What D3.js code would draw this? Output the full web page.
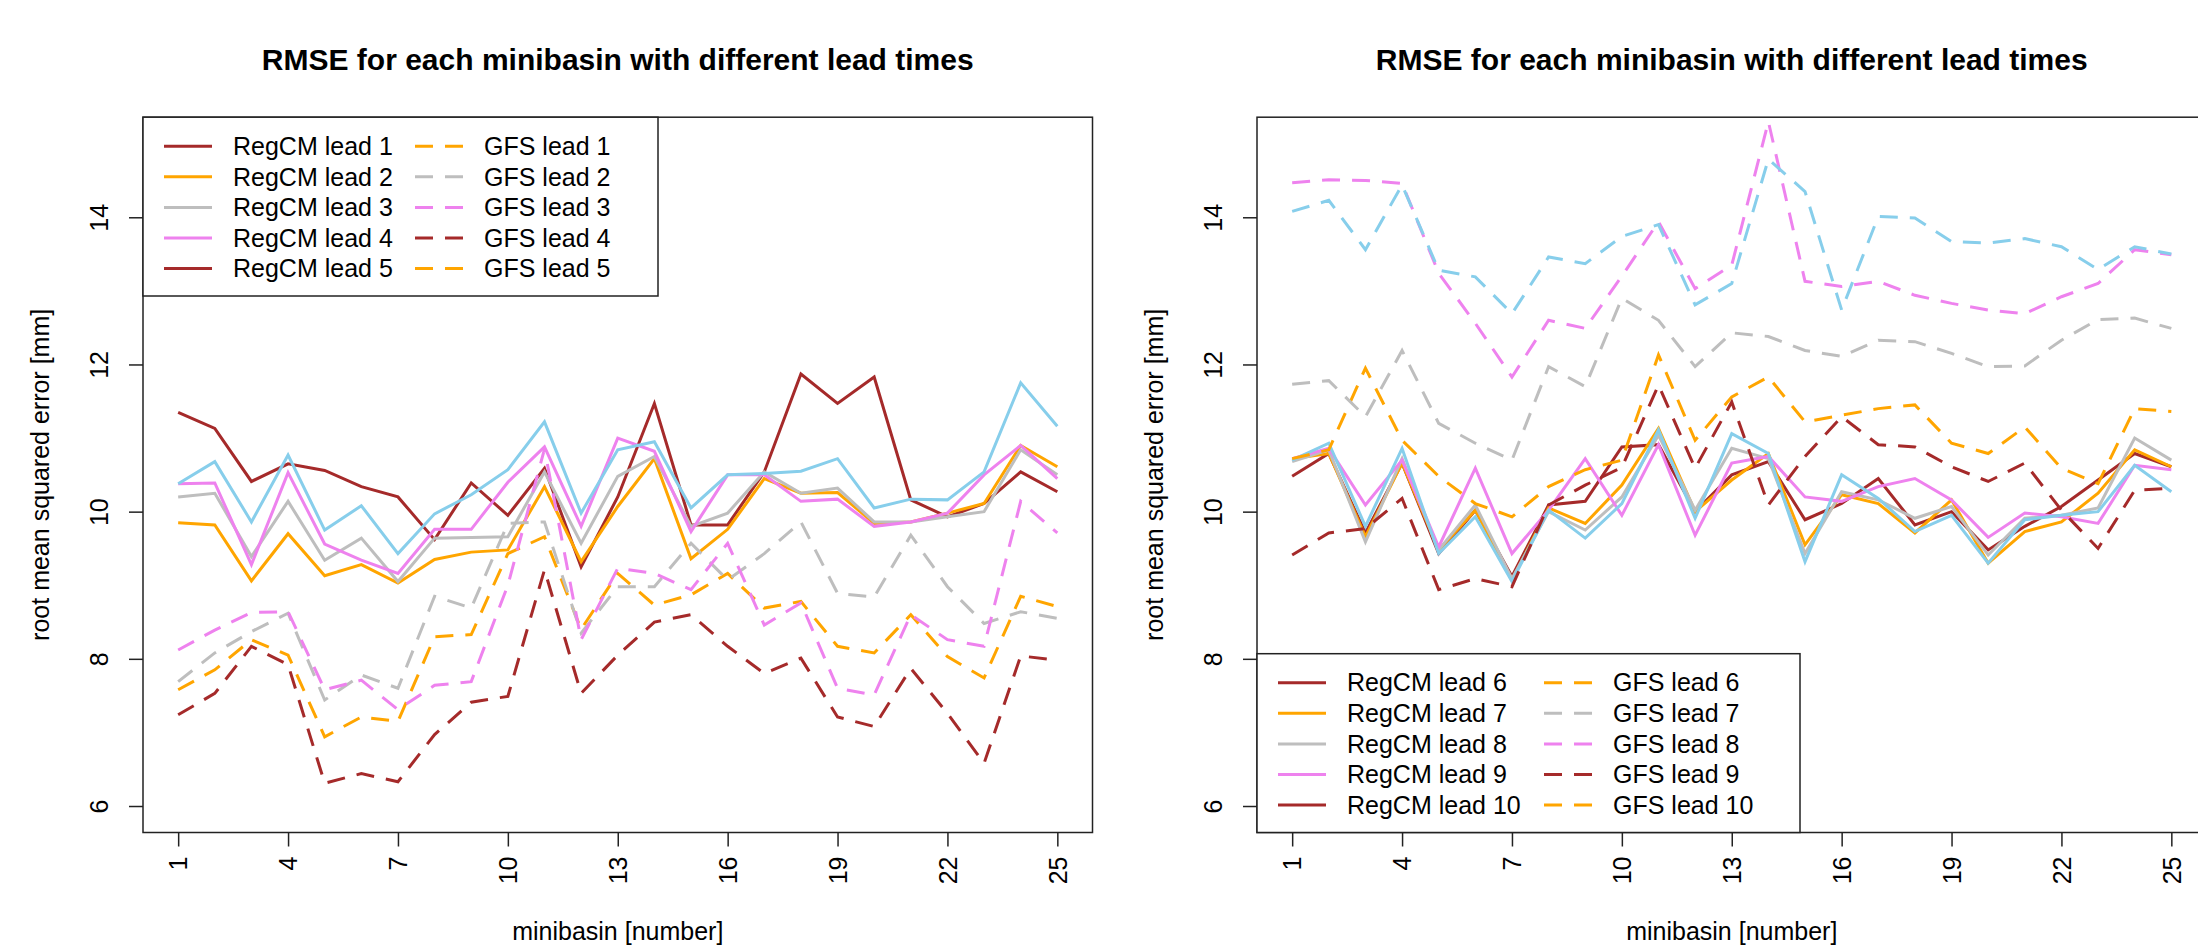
<!DOCTYPE html>
<html>
<head>
<meta charset="utf-8">
<script src="https://cdn.jsdelivr.net/npm/d3@7"></script>
<style>
  body { margin: 0; background: #fff; }
  text { font-family: "Liberation Sans", Arial, sans-serif; fill: #000; }
</style>
</head>
<body>
<svg width="2198" height="951"></svg>
<script>
var svg = d3.select("svg"),
    width = +svg.attr("width"),
    height = +svg.attr("height");

// minibasin numbers and axis ticks
var basins = [1, 2, 3, 4, 5, 6, 7, 8, 9, 10, 11, 12, 13, 14, 15, 16, 17, 18, 19, 20, 21, 22, 23, 24, 25];
var xTicks = [1, 4, 7, 10, 13, 16, 19, 22, 25];
var yTicks = [6, 8, 10, 12, 14];
var yLimits = [6, 15];

// line colours (R names brown, orange, gray, violet, skyblue)
var brown = "#a52a2a", orange = "#ffa500", gray = "#bebebe", violet = "#ee82ee", skyblue = "#87ceeb";

// left panel, leads 1-5
var regcm1 = [11.35, 11.13, 10.41, 10.65, 10.56, 10.34, 10.20, 9.62, 10.39, 9.95, 10.59, 9.25, 10.20, 11.47, 9.82, 9.82, 10.54, 11.87, 11.47, 11.83, 10.16, 9.93, 10.11, 10.54, 10.27];
var regcm2 = [9.85, 9.82, 9.06, 9.70, 9.13, 9.28, 9.03, 9.35, 9.45, 9.48, 10.34, 9.32, 10.07, 10.72, 9.36, 9.76, 10.45, 10.25, 10.26, 9.84, 9.86, 9.98, 10.11, 10.90, 10.61];
var regcm3 = [10.20, 10.25, 9.39, 10.14, 9.34, 9.64, 9.05, 9.64, 9.65, 9.66, 10.54, 9.57, 10.48, 10.75, 9.80, 9.98, 10.54, 10.25, 10.32, 9.86, 9.86, 9.93, 10.00, 10.84, 10.50];
var regcm4 = [10.38, 10.39, 9.28, 10.53, 9.56, 9.34, 9.16, 9.76, 9.76, 10.40, 10.88, 9.80, 11.00, 10.82, 9.73, 10.50, 10.50, 10.14, 10.17, 9.80, 9.86, 9.98, 10.50, 10.90, 10.45];
var regcm5 = [10.38, 10.68, 9.86, 10.77, 9.75, 10.08, 9.43, 9.97, 10.23, 10.57, 11.22, 9.98, 10.84, 10.95, 10.05, 10.50, 10.52, 10.55, 10.72, 10.05, 10.17, 10.16, 10.54, 11.75, 11.16];
var gfs1 = [7.58, 7.85, 8.26, 8.05, 6.94, 7.21, 7.15, 8.30, 8.33, 9.43, 9.66, 8.40, 9.16, 8.73, 8.87, 9.16, 8.69, 8.78, 8.17, 8.08, 8.60, 8.03, 7.74, 8.85, 8.71];
var gfs2 = [7.69, 8.08, 8.37, 8.62, 7.44, 7.78, 7.60, 8.85, 8.69, 9.84, 9.86, 8.35, 8.98, 8.98, 9.57, 9.07, 9.43, 9.86, 8.89, 8.84, 9.68, 8.98, 8.48, 8.64, 8.55];
var gfs3 = [8.12, 8.39, 8.63, 8.64, 7.58, 7.71, 7.31, 7.64, 7.69, 9.00, 10.85, 8.26, 9.23, 9.16, 8.94, 9.57, 8.46, 8.76, 7.60, 7.51, 8.60, 8.26, 8.17, 10.14, 9.71];
var gfs4 = [7.24, 7.53, 8.17, 7.92, 6.31, 6.44, 6.33, 6.97, 7.41, 7.49, 9.21, 7.53, 8.05, 8.50, 8.60, 8.17, 7.80, 8.01, 7.21, 7.08, 7.87, 7.26, 6.58, 8.04, 7.98];

// right panel, leads 6-10
var regcm6 = [10.48, 10.79, 9.71, 10.66, 9.43, 10.02, 9.12, 10.09, 10.14, 10.88, 10.91, 10.00, 10.50, 10.68, 9.89, 10.11, 10.45, 9.82, 10.00, 9.48, 9.80, 10.07, 10.43, 10.79, 10.61];
var regcm7 = [10.72, 10.79, 9.66, 10.66, 9.48, 10.02, 9.07, 10.05, 9.84, 10.36, 11.13, 10.00, 10.43, 10.79, 9.55, 10.23, 10.11, 9.71, 10.16, 9.30, 9.73, 9.86, 10.25, 10.84, 10.61];
var regcm8 = [10.68, 10.84, 9.59, 10.72, 9.48, 10.09, 9.09, 10.00, 9.75, 10.20, 11.04, 10.02, 10.86, 10.72, 9.43, 10.27, 10.16, 9.91, 10.07, 9.41, 9.91, 9.95, 10.05, 11.00, 10.70];
var regcm9 = [10.72, 10.86, 10.09, 10.70, 9.52, 10.59, 9.43, 10.02, 10.72, 9.95, 10.91, 9.68, 10.66, 10.75, 10.20, 10.14, 10.34, 10.45, 10.16, 9.65, 9.98, 9.93, 9.84, 10.63, 10.57];
var regcm10 = [10.70, 10.93, 9.80, 10.86, 9.43, 9.93, 9.05, 10.02, 9.64, 10.11, 11.11, 9.91, 11.06, 10.79, 9.32, 10.50, 10.18, 9.73, 9.95, 9.30, 9.89, 9.95, 10.00, 10.63, 10.27];
var gfs6 = [10.72, 10.84, 11.95, 10.97, 10.48, 10.11, 9.93, 10.34, 10.57, 10.70, 12.13, 10.97, 11.56, 11.83, 11.22, 11.31, 11.40, 11.45, 10.93, 10.79, 11.15, 10.59, 10.38, 11.40, 11.36];
var gfs7 = [11.73, 11.78, 11.29, 12.19, 11.20, 10.93, 10.70, 11.97, 11.70, 12.90, 12.60, 11.97, 12.43, 12.38, 12.19, 12.11, 12.33, 12.31, 12.15, 11.97, 11.98, 12.33, 12.61, 12.63, 12.49];
var gfs8 = [14.47, 14.51, 14.50, 14.46, 13.24, 12.56, 11.83, 12.60, 12.49, 13.20, 13.94, 13.03, 13.35, 15.30, 13.13, 13.06, 13.13, 12.94, 12.83, 12.74, 12.69, 12.92, 13.10, 13.56, 13.49];
var gfs9 = [9.41, 9.71, 9.77, 10.18, 8.94, 9.09, 8.98, 10.09, 10.36, 10.60, 11.72, 10.59, 11.49, 10.09, 10.75, 11.29, 10.91, 10.88, 10.61, 10.41, 10.66, 10.02, 9.50, 10.29, 10.32];
var gfs10 = [14.08, 14.23, 13.56, 14.44, 13.28, 13.19, 12.69, 13.46, 13.37, 13.74, 13.90, 12.81, 13.10, 14.79, 14.35, 12.74, 14.01, 13.99, 13.67, 13.65, 13.71, 13.60, 13.29, 13.60, 13.50];

// legend text (the legend colours cycle over four colours, as in the original)
var legendLeft = ["RegCM lead 1", "RegCM lead 2", "RegCM lead 3", "RegCM lead 4", "RegCM lead 5",
                  "GFS lead 1", "GFS lead 2", "GFS lead 3", "GFS lead 4", "GFS lead 5"];
var legendRight = ["RegCM lead 6", "RegCM lead 7", "RegCM lead 8", "RegCM lead 9", "RegCM lead 10",
                   "GFS lead 6", "GFS lead 7", "GFS lead 8", "GFS lead 9", "GFS lead 10"];
var legendColours = [brown, orange, gray, violet, brown, orange, gray, violet, brown, orange];

var leftSeries = [
  { values: regcm1, colour: brown, dashed: false },
  { values: regcm2, colour: orange, dashed: false },
  { values: regcm3, colour: gray, dashed: false },
  { values: regcm4, colour: violet, dashed: false },
  { values: regcm5, colour: skyblue, dashed: false },
  { values: gfs1, colour: orange, dashed: true },
  { values: gfs2, colour: gray, dashed: true },
  { values: gfs3, colour: violet, dashed: true },
  { values: gfs4, colour: brown, dashed: true }
];

var rightSeries = [
  { values: regcm6, colour: brown, dashed: false },
  { values: regcm7, colour: orange, dashed: false },
  { values: regcm8, colour: gray, dashed: false },
  { values: regcm9, colour: violet, dashed: false },
  { values: regcm10, colour: skyblue, dashed: false },
  { values: gfs6, colour: orange, dashed: true },
  { values: gfs7, colour: gray, dashed: true },
  { values: gfs8, colour: violet, dashed: true },
  { values: gfs9, colour: brown, dashed: true },
  { values: gfs10, colour: skyblue, dashed: true }
];

var plotTop = 117.2, plotBottom = 832.5, plotWidth = 949.5;

// R style axis ranges, extended by 4% on each side
var pad = (yLimits[1] - yLimits[0]) * 0.04;
var y = d3.scaleLinear()
    .domain([yLimits[0] - pad, yLimits[1] + pad])
    .range([plotBottom, plotTop]);

function drawPanel(x0, series, labels, legendPos) {
  var x = d3.scaleLinear()
      .domain([1 - 0.96, 25 + 0.96])
      .range([x0, x0 + plotWidth]);

  var g = svg.append("g");

  var line = d3.line()
      .x(function(d, i) { return x(basins[i]); })
      .y(function(d) { return y(d); });

  g.append("g")
    .selectAll("path")
    .data(series)
    .enter().append("path")
      .attr("d", function(d) { return line(d.values); })
      .attr("fill", "none")
      .attr("stroke", function(d) { return d.colour; })
      .attr("stroke-width", 3)
      .attr("stroke-dasharray", function(d) { return d.dashed ? "18,12" : null; });

  // frame
  g.append("rect")
      .attr("x", x0)
      .attr("y", plotTop)
      .attr("width", plotWidth)
      .attr("height", plotBottom - plotTop)
      .attr("fill", "none")
      .attr("stroke", "#222")
      .attr("stroke-width", 1.5);

  // x axis, labels perpendicular
  var xAxis = g.append("g")
      .attr("transform", "translate(0," + plotBottom + ")")
      .call(d3.axisBottom(x).tickValues(xTicks).tickSize(14).tickSizeOuter(0));
  xAxis.select(".domain").remove();
  xAxis.selectAll("line").attr("stroke", "#222").attr("stroke-width", 1.5);
  xAxis.selectAll("text")
      .attr("transform", "rotate(-90)")
      .attr("x", -24)
      .attr("y", 0)
      .attr("dy", "0.35em")
      .attr("text-anchor", "end")
      .style("font-size", "25px")
      .style("font-family", null)
      .attr("fill", "#000");

  // y axis, labels parallel
  var yAxis = g.append("g")
      .attr("transform", "translate(" + x0 + ",0)")
      .call(d3.axisLeft(y).tickValues(yTicks).tickSize(14).tickSizeOuter(0));
  yAxis.select(".domain").remove();
  yAxis.selectAll("line").attr("stroke", "#222").attr("stroke-width", 1.5);
  yAxis.selectAll("text")
      .attr("transform", "translate(-35,0) rotate(-90)")
      .attr("x", 0)
      .attr("y", 0)
      .attr("dy", 0)
      .attr("text-anchor", "middle")
      .style("font-size", "25px")
      .attr("fill", "#000");
  svg.selectAll(".tick text").attr("font-family", null);
  svg.selectAll("g[font-family]").attr("font-family", null).attr("font-size", null);

  g.append("text")
      .attr("x", x0 + plotWidth / 2)
      .attr("y", 70)
      .attr("text-anchor", "middle")
      .style("font-size", "30px")
      .style("font-weight", "bold")
      .text("RMSE for each minibasin with different lead times");

  g.append("text")
      .attr("x", x0 + plotWidth / 2)
      .attr("y", 940)
      .attr("text-anchor", "middle")
      .style("font-size", "25px")
      .text("minibasin [number]");

  g.append("text")
      .attr("transform", "translate(" + (x0 - 94) + "," + ((plotTop + plotBottom) / 2) + ") rotate(-90)")
      .attr("text-anchor", "middle")
      .style("font-size", "25px")
      .text("root mean squared error [mm]");

  // legend
  var lg = g.append("g");
  lg.append("rect")
      .attr("x", x0)
      .attr("y", legendPos.top)
      .attr("width", legendPos.width)
      .attr("height", legendPos.height)
      .attr("fill", "#fff")
      .attr("stroke", "#222")
      .attr("stroke-width", 1.5);

  var entry = lg.selectAll(".entry")
      .data(labels)
      .enter().append("g")
      .attr("class", "entry")
      .attr("transform", function(d, i) {
        var col = Math.floor(i / 5), row = i % 5;
        return "translate(" + (x0 + (col ? legendPos.col2 : 21)) + "," + (legendPos.top + 29 + row * 30.6) + ")";
      });

  entry.append("line")
      .attr("x1", 0)
      .attr("x2", 48)
      .attr("stroke", function(d, i) { return legendColours[i]; })
      .attr("stroke-width", 3)
      .attr("stroke-dasharray", function(d, i) { return i >= 5 ? "18,12" : null; });

  entry.append("text")
      .attr("x", 69)
      .attr("dy", "0.35em")
      .style("font-size", "25px")
      .text(function(d) { return d; });
}

drawPanel(143, leftSeries, legendLeft, { top: plotTop, width: 515, height: 178.8, col2: 272 });
drawPanel(1257, rightSeries, legendRight, { top: plotBottom - 178.8, width: 543, height: 178.8, col2: 287 });
</script>
</body>
</html>
